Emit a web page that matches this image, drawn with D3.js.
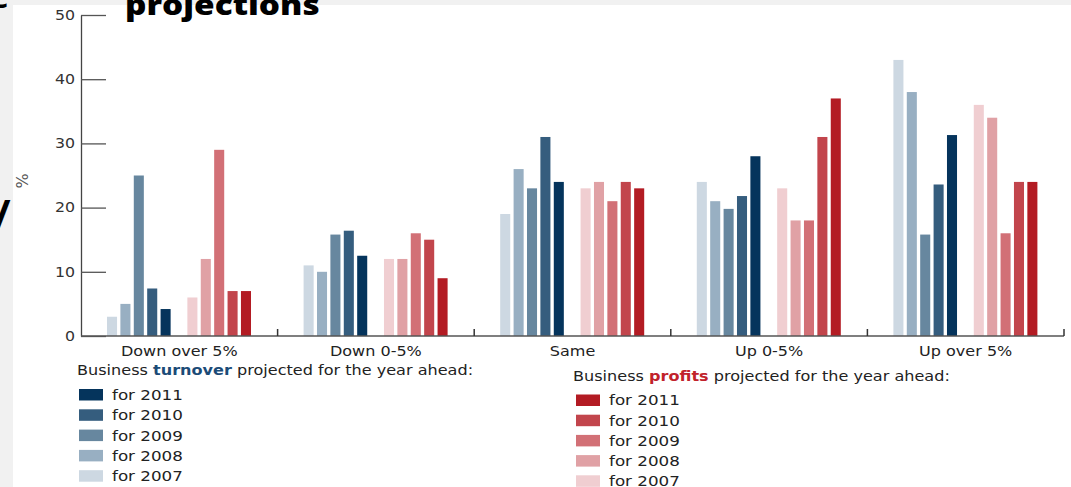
<!DOCTYPE html>
<html>
<head>
<meta charset="utf-8">
<script src="https://cdn.jsdelivr.net/npm/d3@7"></script>
<style>
  html, body { margin: 0; padding: 0; background: #f1f1f1; }
  svg { display: block; font-family: "DejaVu Sans", sans-serif; }
</style>
</head>
<body>
<svg id="chart" width="1071" height="487"></svg>
<script>
// Expectation categories along the x axis
const categories = ["Down over 5%", "Down 0-5%", "Same", "Up 0-5%", "Up over 5%"];
const years = ["2007", "2008", "2009", "2010", "2011"];

// Share of businesses (%) expecting each change in turnover
const turnover2007 = [3, 11, 19, 24, 43];
const turnover2008 = [5, 10, 26, 21, 38];
const turnover2009 = [25, 15.8, 23, 19.8, 15.8];
const turnover2010 = [7.4, 16.4, 31, 21.8, 23.6];
const turnover2011 = [4.2, 12.5, 24, 28, 31.3];

// Share of businesses (%) expecting each change in profits
const profits2007 = [6, 12, 23, 23, 36];
const profits2008 = [12, 12, 24, 18, 34];
const profits2009 = [29, 16, 21, 18, 16];
const profits2010 = [7, 15, 24, 31, 24];
const profits2011 = [7, 9, 23, 37, 24];

const yTicks = [0, 10, 20, 30, 40, 50];

const turnoverColors = ["#cdd8e2", "#98afc2", "#67879f", "#355d7e", "#05345c"];
const profitsColors  = ["#f0ced1", "#e0a1a5", "#d27076", "#c2454c", "#b31b23"];

const turnoverSeries = [turnover2007, turnover2008, turnover2009, turnover2010, turnover2011];
const profitsSeries  = [profits2007, profits2008, profits2009, profits2010, profits2011];

// Build bar records: 11 slots per category (5 turnover, a gap, 5 profits)
const slots = ["t2007","t2008","t2009","t2010","t2011","gap","p2007","p2008","p2009","p2010","p2011"];
const bars = [];
categories.forEach((cat, ci) => {
  years.forEach((yr, yi) => {
    bars.push({ cat, slot: "t" + yr, value: turnoverSeries[yi][ci], color: turnoverColors[yi] });
    bars.push({ cat, slot: "p" + yr, value: profitsSeries[yi][ci], color: profitsColors[yi] });
  });
});

const SX = 1.17; // horizontal text stretch
function stretch(sel) {
  sel.attr("transform", function () {
    const x = +this.getAttribute("x") || 0;
    return `translate(${x},0) scale(${SX},1) translate(${-x},0)`;
  });
}

const svg = d3.select("#chart");

// Slide panel
svg.append("rect").attr("x", 0).attr("y", 0).attr("width", 1071).attr("height", 487).attr("fill", "#f1f1f1");
svg.append("rect").attr("x", 13).attr("y", 5).attr("width", 1058).attr("height", 482).attr("fill", "#ffffff");

// Title fragments
svg.append("text").attr("x", 125).attr("y", 15)
  .attr("font-family", "'Open Sans', sans-serif").attr("font-weight", 800).attr("font-size", 28.5)
  .attr("fill", "#000").text("projections").call(stretch);
svg.append("text").attr("x", -9).attr("y", 8)
  .attr("font-family", "'Open Sans', sans-serif").attr("font-weight", 700).attr("font-size", 30)
  .attr("fill", "#000").text("e");
svg.append("text").attr("x", -6).attr("y", 228)
  .attr("font-family", "'Open Sans', sans-serif").attr("font-weight", 700).attr("font-size", 40)
  .attr("fill", "#000").text("/");

// Scales
const x0 = 81, x1 = 1064, yBase = 336, yTop = 15;
const x = d3.scaleBand().domain(categories).range([x0, x1]).paddingInner(0).paddingOuter(0);
const xs = d3.scaleBand().domain(slots).range([26, 170]).paddingInner(0.25).paddingOuter(0);
const y = d3.scaleLinear().domain([0, 50]).range([yBase, yTop]);

// Bars
svg.append("g").selectAll("rect").data(bars).join("rect")
  .attr("x", d => x(d.cat) + xs(d.slot))
  .attr("y", d => y(d.value))
  .attr("width", xs.bandwidth())
  .attr("height", d => y(0) - y(d.value))
  .attr("fill", d => d.color);

// Y axis
const yAxis = svg.append("g").attr("transform", `translate(${x0},0)`)
  .call(d3.axisLeft(y).tickValues(yTicks).tickSizeInner(-25).tickSizeOuter(0).tickPadding(6));
yAxis.select(".domain").attr("stroke", "#444").attr("stroke-width", 1.3);
yAxis.selectAll(".tick line").attr("stroke", "#555").attr("stroke-width", 1.3);
yAxis.selectAll(".tick text").attr("font-size", 13.5).attr("fill", "#333")
  .attr("font-family", "'DejaVu Sans', sans-serif").call(stretch);

// X axis: baseline with ticks at category boundaries
const xAxis = svg.append("g").attr("transform", `translate(0,${yBase})`)
  .call(d3.axisBottom(x).tickSize(0).tickPadding(10));
xAxis.select(".domain").remove();
xAxis.selectAll(".tick text").attr("font-size", 13.7).attr("fill", "#222")
  .attr("font-family", "'DejaVu Sans', sans-serif").call(stretch);
xAxis.append("line").attr("x1", x0).attr("x2", x1).attr("y1", 0).attr("y2", 0)
  .attr("stroke", "#555").attr("stroke-width", 1.5);
xAxis.selectAll("line.bound").data(categories).join("line").attr("class", "bound")
  .attr("x1", d => x(d) + x.bandwidth()).attr("x2", d => x(d) + x.bandwidth())
  .attr("y1", 0).attr("y2", -7).attr("stroke", "#333").attr("stroke-width", 1.5);

// Y axis unit label
svg.append("text").attr("transform", "translate(28,181) rotate(-90)")
  .attr("text-anchor", "middle").attr("font-size", 16).attr("fill", "#555").text("%");

// Legends
function legend(gx, gy, rectX, textX, rowY0, step, word, wordColor, colors) {
  const t = svg.append("text").attr("x", gx).attr("y", gy).attr("font-size", 13.75).attr("fill", "#222");
  t.append("tspan").text("Business ");
  t.append("tspan").attr("font-weight", 700).attr("fill", wordColor).text(word);
  t.append("tspan").text(" projected for the year ahead:");
  t.call(stretch);
  const rows = years.slice().reverse();
  const cols = colors.slice().reverse();
  rows.forEach((yr, i) => {
    const ry = rowY0 + i * step;
    svg.append("rect").attr("x", rectX).attr("y", ry).attr("width", 24).attr("height", 11.5).attr("fill", cols[i]);
    svg.append("text").attr("x", textX).attr("y", ry + 11).attr("font-size", 14.3).attr("fill", "#222")
      .text("for " + yr).call(stretch);
  });
}
legend(77, 375, 79, 112, 389, 20.3, "turnover", "#1b4b77", turnoverColors);
legend(573, 381.5, 576, 609, 394.5, 20.2, "profits", "#c1222b", profitsColors);
</script>
</body>
</html>
